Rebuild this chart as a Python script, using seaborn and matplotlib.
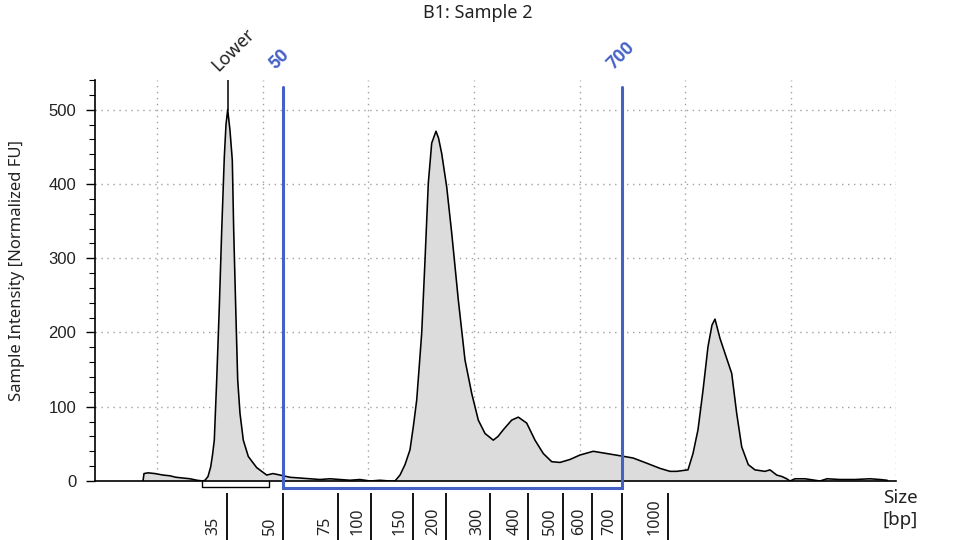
import pandas as pd
import matplotlib
matplotlib.use('Agg')
import matplotlib.pyplot as plt
import matplotlib.transforms as mtransforms
import seaborn as sns

# trace: x = migration position along the run, y = normalized FU
trace_pos = [48, 49, 53, 60, 68, 75, 81, 88, 95, 102, 108, 110, 113, 115.7, 117.5, 119.3,
             121.7, 124.3, 126.7, 129.3, 131, 132.7, 135, 137.3, 138.7, 140.7, 142.7, 145,
             148.3, 153.3, 161.7, 171.7, 178, 185, 195, 205, 215, 225, 235, 245, 255, 265,
             275, 285, 295, 300, 305, 310, 315, 318.5, 321.7, 324, 326.7, 330, 333.3, 336.7,
             341, 343.5, 346.7, 351.7, 356.7, 363.3, 370, 376.7, 383.3, 390, 398.3, 403,
             408.3, 416.7, 423.3, 431.7, 440, 448.3, 456.7, 465, 475, 485, 498.3, 511.7,
             525, 538, 551.7, 565, 575, 581.7, 593, 598, 603, 608, 613, 617, 620, 622.5,
             625, 631.7, 636.7, 641.7, 646.7, 653.3, 660, 665, 670, 675, 681.7, 687, 691.7,
             695, 700, 710, 720, 725, 732, 745, 760, 775, 785, 792, 793]
trace_fu = [0, 10, 11, 10, 8, 7, 5, 4, 3, 1, 0, 1, 6, 19, 35, 55,
            136, 234, 337, 436, 480, 500, 472, 432, 337, 234, 136, 91,
            55, 33, 18, 8, 10, 8, 5, 4, 3, 2, 3, 2, 1, 2,
            0, 1, 0, 0, 8, 22, 42, 75, 109, 150, 199, 297, 401, 455,
            471, 462, 441, 396, 334, 244, 163, 118, 82, 64, 55, 60,
            69, 82, 86, 78, 55, 37, 26, 25, 29, 35, 40, 37,
            34, 31, 24, 17, 13, 13, 15, 37, 69, 122, 181, 210, 218, 205,
            192, 165, 145, 91, 46, 22, 15, 14, 13, 15, 8, 6, 3,
            0, 3, 3, 1, 0, 3, 2, 2, 3, 2, 1, 0]

# size ladder
ladder_bp = [35, 50, 75, 100, 150, 200, 300, 400, 500, 600, 700, 1000]
ladder_pos = [131.7, 188, 243, 276, 318, 351, 395, 433, 468, 497, 527, 573]

y_ticks = [0, 100, 200, 300, 400, 500]
grid_pos = [62, 168, 273, 379, 485, 590, 696, 801]

lower_pos = 132.7
lower_bracket = [107, 174]
region_bp = [50, 700]

blue = '#4661c6'
txt = '#222222'

sns.set_theme(style='white')
plt.rcParams['font.family'] = ['Noto Sans', 'DejaVu Sans']

fig = plt.figure(figsize=(9.6, 5.4), dpi=100)
ax = fig.add_axes([95 / 960, 59 / 540, 801 / 960, 401 / 540])

df = pd.DataFrame({'pos': trace_pos, 'fu': trace_fu})
ax.fill_between(df['pos'], df['fu'], 0, color='#dcdcdc', lw=0, zorder=2)
sns.lineplot(data=df, x='pos', y='fu', color='black', lw=1.15, ax=ax,
             estimator=None, sort=False, zorder=3)

ax.set_xlim(0, 801)
ax.set_ylim(0, 540)
ax.set_xlabel('')
ax.set_ylabel('Sample Intensity [Normalized FU]', fontsize=12, color=txt)
ax.yaxis.set_label_coords(-0.0874, 0.526)

ax.set_yticks(y_ticks, [str(v) for v in y_ticks], fontfamily='Liberation Sans',
              fontsize=12, color=txt)
ax.set_yticks(range(0, 541, 20), minor=True)
ax.set_xticks([])
ax.set_xticks(grid_pos, minor=True)
ax.tick_params(axis='x', which='both', length=0, labelbottom=False)
ax.tick_params(axis='y', which='major', left=True, length=6.5, width=1, color='black', pad=7)
ax.tick_params(axis='y', which='minor', left=True, length=4.3, width=0.8, color='black')

grid_style = dict(color='#a0a0a0', lw=1, linestyle=(0, (1, 3.3)))
ax.yaxis.grid(True, which='major', **grid_style)
ax.xaxis.grid(True, which='minor', **grid_style)

for s in ['top', 'right']:
    ax.spines[s].set_visible(False)
for s in ['left', 'bottom']:
    ax.spines[s].set_color('black')
    ax.spines[s].set_linewidth(1.2)
    ax.spines[s].set_zorder(4)

# ladder ticks and labels under the axis
xt = ax.get_xaxis_transform()
ax.vlines(ladder_pos, -0.03, -0.15, transform=xt, color='black', lw=1.3, clip_on=False)
lab_tr = mtransforms.offset_copy(xt, fig=fig, x=-5, y=0, units='dots')
for bp, p in zip(ladder_bp, ladder_pos):
    ax.text(p, -0.1347, str(bp), transform=lab_tr, rotation=90, ha='right', va='bottom',
            fontsize=11.5, color=txt)

# lower marker
ax.plot([lower_pos, lower_pos], [max(trace_fu), 540], color='black', lw=1.1, zorder=3)
ax.plot([lower_bracket[0], lower_bracket[0], lower_bracket[1], lower_bracket[1]],
        [0, -8, -8, 0], color='black', lw=1, clip_on=False)
ax.annotate('Lower', xy=(lower_pos, 540), xytext=(-9, 8), textcoords='offset pixels',
            rotation=45, rotation_mode='anchor', ha='left', va='baseline', fontsize=13,
            color=txt, annotation_clip=False)

# region 50 - 700 bp
r0 = ladder_pos[ladder_bp.index(region_bp[0])]
r1 = ladder_pos[ladder_bp.index(region_bp[1])]
ax.plot([r0, r0, r1, r1], [530, -9.5, -9.5, 530], color=blue, lw=2.2, clip_on=False,
        solid_joinstyle='miter', zorder=5)
for bp, p in zip(region_bp, [r0, r1]):
    ax.annotate(str(bp), xy=(p, 540), xytext=(-8, 10), textcoords='offset pixels',
                rotation=45, rotation_mode='anchor', ha='left', va='baseline',
                fontsize=13, fontweight='bold', family=['Roboto', 'DejaVu Sans'],
                color=blue, annotation_clip=False)

fig.text(0.498, 1 - 12.5 / 540, 'B1: Sample 2', ha='center', va='center', fontsize=13,
         color=txt)
fig.text(900 / 960, 1 - 509 / 540, 'Size\n[bp]', ha='center', va='center', fontsize=13.5,
         linespacing=1.25, color=txt)

fig.savefig('out.png', dpi=100)
